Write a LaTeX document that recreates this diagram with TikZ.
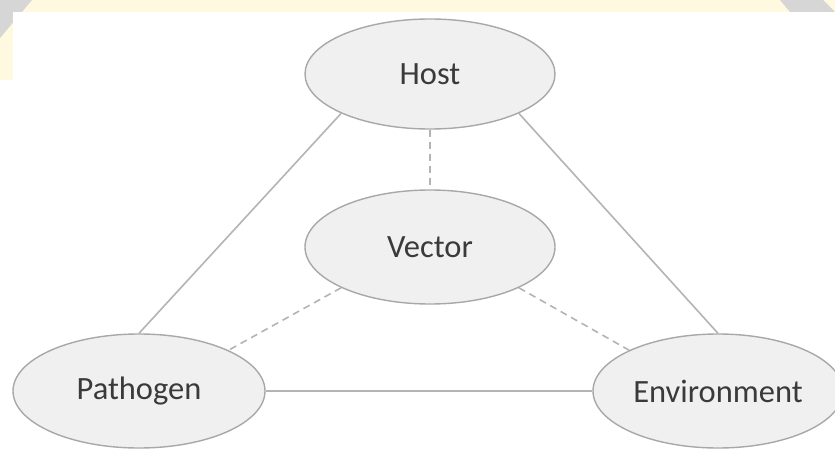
\documentclass[tikz,border=0pt]{standalone}
\usepackage{fontspec}
\setmainfont{Carlito}
\usetikzlibrary{shapes.geometric}
\definecolor{nodefill}{HTML}{F0F0F0}
\definecolor{nodeline}{HTML}{A8A8A8}
\definecolor{linkcol}{HTML}{B4B4B4}
\definecolor{txtcol}{HTML}{3A3A3A}
\definecolor{cream}{HTML}{FFF9E0}
\definecolor{stripgray}{HTML}{D6D6D6}
\tikzset{
  blob/.style={ellipse, draw=nodeline, fill=nodefill, line width=1.4pt,
    inner sep=0pt, minimum width=250pt, minimum height=110pt,
    text=txtcol, font=\fontsize{32.5}{36}\selectfont},
  solidlink/.style={draw=linkcol, line width=1.6pt},
  dashlink/.style={draw=linkcol, line width=1.6pt, dash pattern=on 7pt off 5pt}
}
\begin{document}
\begin{tikzpicture}[x=1pt,y=-1pt]
\useasboundingbox (0,0) rectangle (835,449);
% background with pale frame at top and left
\fill[white] (0,0) rectangle (835,449);
\fill[cream] (0,0) rectangle (835,12);
\fill[cream] (0,0) rectangle (13,80);
\fill[stripgray] (0,0) -- (32,0) -- (0,38) -- cycle;
\fill[stripgray] (780,0) -- (823,0) -- (835,12) -- (790,12) -- cycle;
\fill[white] (13,12) rectangle (835,449);
% nodes
\node[blob] (host) at (430,74) {Host};
\node[blob, minimum height=114pt] (vector) at (430,247) {Vector};
\node[blob, minimum width=252pt, minimum height=114pt] (pathogen) at (139,391) {Pathogen};
\node[blob, minimum height=114pt] (env) at (718,391) {Environment};
% connectors
\draw[solidlink] (host.south west) -- (pathogen.north);
\draw[solidlink] (host.south east) -- (env.north);
\draw[solidlink] (pathogen.east) -- (env.west);
\draw[dashlink] (host.south) -- (vector.north);
\draw[dashlink] (vector.south west) -- (pathogen.north east);
\draw[dashlink] (vector.south east) -- (env.north west);
\end{tikzpicture}
\end{document}
